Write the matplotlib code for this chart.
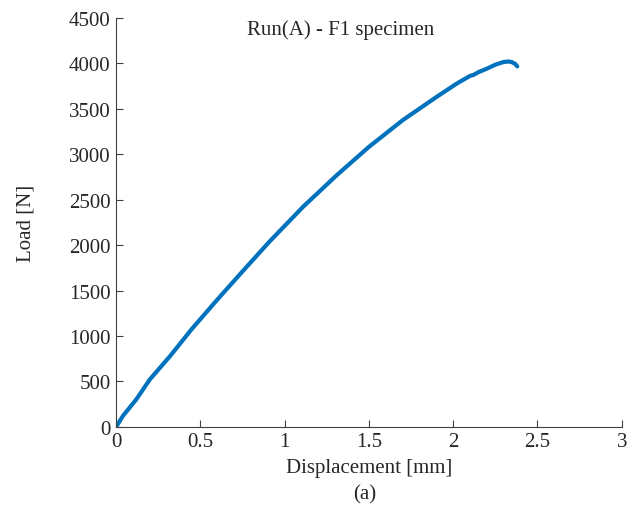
import matplotlib
matplotlib.use('Agg')
import matplotlib.pyplot as plt
import numpy as np

# load-displacement readings (mm, N)
disp = [0.0, 0.04, 0.12, 0.2, 0.32, 0.446, 0.6, 0.75, 0.91, 1.11, 1.31, 1.5,
        1.7, 1.9, 2.02, 2.1, 2.12, 2.15, 2.2, 2.25, 2.3, 2.33, 2.35, 2.37, 2.38]
load = [0, 121, 304, 523, 779, 1071, 1400, 1711, 2039, 2423, 2771, 3081,
        3374, 3629, 3776, 3862, 3872, 3903, 3941, 3985, 4015, 4020, 4012, 3990, 3966]

xticks = [0, 0.5, 1, 1.5, 2, 2.5, 3]
xticklabels = ['0', '0.5', '1', '1.5', '2', '2.5', '3']
yticks = list(range(0, 4501, 500))

plt.rcParams['font.family'] = ['Liberation Serif', 'DejaVu Serif']
txt = '#262626'
axc = '#404040'

fig = plt.figure(figsize=(6.28, 5.10), dpi=100)
ax = fig.add_axes([0.185, 0.161, 0.805, 0.802])

ax.plot(disp, load, color='#0072BD', linewidth=3.0,
        solid_capstyle='round', solid_joinstyle='round')

ax.set_xlim(0, 3)
ax.set_ylim(0, 4500)
ax.set_xticks(xticks)
ax.set_xticklabels(xticklabels)
ax.set_yticks(yticks)

for s in ['top', 'right']:
    ax.spines[s].set_visible(False)
for s in ['left', 'bottom']:
    ax.spines[s].set_color(axc)
    ax.spines[s].set_linewidth(0.8)

ax.tick_params(direction='in', length=5, width=0.8, colors=axc,
               labelcolor=txt, labelsize=15, pad=4)

ax.set_xlabel('Displacement [mm]', fontsize=15, color=txt, labelpad=5)
ax.set_ylabel('Load [N]', fontsize=15, color=txt, labelpad=24)

ax.text(0.443, 0.973, 'Run(A) - F1 specimen', transform=ax.transAxes,
        ha='center', va='center', fontsize=15, color=txt)
fig.text(0.581, 0.03, '(a)', ha='center', va='center', fontsize=15, color=txt)

fig.savefig('out.png', dpi=100, facecolor='white')
